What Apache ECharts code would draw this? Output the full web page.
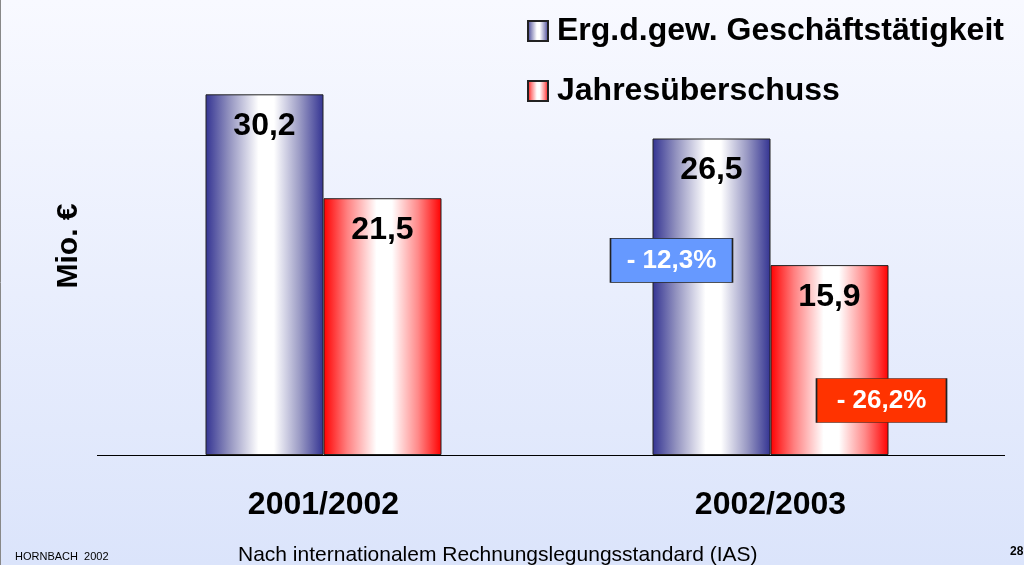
<!DOCTYPE html>
<html>
<head>
<meta charset="utf-8">
<script src="https://cdn.jsdelivr.net/npm/echarts@6/dist/echarts.min.js"></script>
<style>
  html, body { margin: 0; padding: 0; }
  #chart { width: 1024px; height: 565px; }
</style>
</head>
<body>
<div id="chart"></div>
<script>
// Daten (Mio. €)
const years = ['2001/2002', '2002/2003']
const seriesNames = ['Erg.d.gew. Geschäftstätigkeit', 'Jahresüberschuss']
const ergebnis = [30.2, 26.5]
const ueberschuss = [21.5, 15.9]
const changeLabels = ['- 12,3%', '- 26,2%']

const FONT = '"Liberation Sans", Arial, sans-serif'

const blueGrad = {
  type: 'linear', x: 0, y: 0, x2: 1, y2: 0,
  colorStops: [
    { offset: 0, color: '#333392' },
    { offset: 0.2, color: '#9292bf' },
    { offset: 0.45, color: '#ffffff' },
    { offset: 0.58, color: '#ffffff' },
    { offset: 0.8, color: '#9a9ac4' },
    { offset: 1, color: '#333392' }
  ]
}
const redGrad = {
  type: 'linear', x: 0, y: 0, x2: 1, y2: 0,
  colorStops: [
    { offset: 0, color: '#ff0000' },
    { offset: 0.2, color: '#ff8080' },
    { offset: 0.45, color: '#ffffff' },
    { offset: 0.58, color: '#ffffff' },
    { offset: 0.8, color: '#ff8a8a' },
    { offset: 1, color: '#ff0000' }
  ]
}

const fmt = v => String(v).replace('.', ',')

const valueLabel = {
  show: true,
  position: 'insideTop',
  distance: 16,
  formatter: p => fmt(p.value),
  fontFamily: FONT,
  fontSize: 32,
  fontWeight: 'bold',
  color: '#000'
}

const boxLabel = {
  show: true,
  position: 'inside',
  formatter: '{b}',
  fontFamily: FONT,
  fontSize: 26,
  fontWeight: 'bold',
  color: '#fff'
}

const chart = echarts.init(document.getElementById('chart'))

const option = {
  animation: false,
  backgroundColor: {
    type: 'linear', x: 0, y: 0, x2: 0, y2: 1,
    colorStops: [
      { offset: 0, color: '#f8f9ff' },
      { offset: 1, color: '#dbe4fb' }
    ]
  },
  title: [
    {
      text: 'HORNBACH  2002',
      left: 15, top: 551, padding: 0,
      textStyle: { fontFamily: FONT, fontSize: 11, fontWeight: 'normal', color: '#000' }
    },
    {
      text: 'Nach internationalem Rechnungslegungsstandard (IAS)',
      left: 238, top: 545, padding: 0,
      textStyle: { fontFamily: FONT, fontSize: 21, fontWeight: 'normal', color: '#000' }
    },
    {
      text: '28',
      left: 1010, top: 546, padding: 0,
      textStyle: { fontFamily: FONT, fontSize: 12, fontWeight: 'bold', color: '#000' }
    }
  ],
  legend: {
    data: seriesNames,
    orient: 'vertical',
    left: 527,
    top: 15,
    padding: 0,
    icon: 'rect',
    itemWidth: 20,
    itemHeight: 20,
    itemGap: 28,
    textStyle: {
      fontFamily: FONT,
      fontSize: 32,
      fontWeight: 'bold',
      color: '#000',
      padding: [0, 0, 0, 4]
    }
  },
  grid: { left: 100, right: 30, top: 37, bottom: 110 },
  xAxis: {
    type: 'category',
    data: years,
    axisLine: { show: false },
    axisTick: { show: false },
    axisLabel: {
      margin: 34,
      fontFamily: FONT,
      fontSize: 32,
      fontWeight: 'bold',
      color: '#000'
    }
  },
  yAxis: {
    type: 'value',
    min: 0,
    max: 35,
    name: 'Mio. €',
    nameLocation: 'middle',
    nameRotate: 90,
    nameGap: 16,
    nameTextStyle: { fontFamily: FONT, fontSize: 30, fontWeight: 'bold', color: '#000' },
    axisLine: { show: false },
    axisTick: { show: false },
    axisLabel: { show: false },
    splitLine: { show: false }
  },
  series: [
    {
      name: seriesNames[0],
      type: 'bar',
      data: ergebnis,
      barWidth: 118,
      barGap: '0%',
      itemStyle: { color: blueGrad, borderColor: '#222', borderWidth: 1 },
      label: valueLabel,
      markPoint: {
        symbol: 'rect',
        symbolSize: [122, 44],
        symbolOffset: [-40, 0],
        itemStyle: { color: '#6699ff', borderColor: '#222', borderWidth: 1 },
        label: boxLabel,
        data: [{ name: changeLabels[0], coord: [years[1], 16.3] }]
      }
    },
    {
      name: seriesNames[1],
      type: 'bar',
      data: ueberschuss,
      barWidth: 118,
      barGap: '0%',
      itemStyle: { color: redGrad, borderColor: '#222', borderWidth: 1 },
      label: valueLabel,
      markPoint: {
        symbol: 'rect',
        symbolSize: [130, 44],
        symbolOffset: [52, 0],
        itemStyle: { color: '#ff3300', borderColor: '#222', borderWidth: 1 },
        label: boxLabel,
        data: [{ name: changeLabels[1], coord: [years[1], 4.56] }]
      }
    }
  ],
  graphic: [
    {
      type: 'line',
      shape: { x1: 97, y1: 455.5, x2: 1005, y2: 455.5 },
      style: { stroke: '#000', lineWidth: 1 },
      z: 10
    },
    {
      type: 'line',
      shape: { x1: 0.5, y1: 0, x2: 0.5, y2: 565 },
      style: { stroke: '#888', lineWidth: 1 }
    }
  ]
}

chart.setOption(option)
</script>
</body>
</html>
